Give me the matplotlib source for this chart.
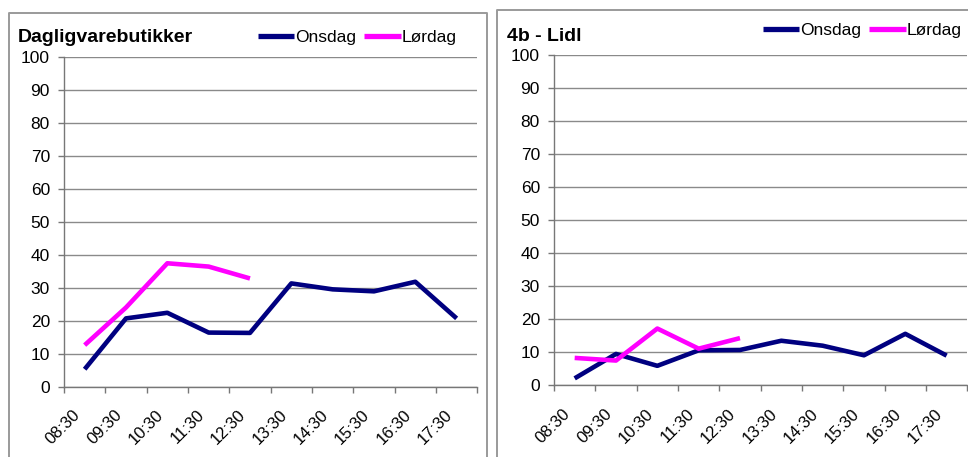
import matplotlib
matplotlib.use("Agg")
import matplotlib.pyplot as plt
from matplotlib.lines import Line2D
import matplotlib.transforms as mtransforms

plt.rcParams['font.family'] = ['Liberation Sans', 'DejaVu Sans']

times = ["08:30", "09:30", "10:30", "11:30", "12:30", "13:30", "14:30", "15:30", "16:30", "17:30"]
yticks = [0, 10, 20, 30, 40, 50, 60, 70, 80, 90, 100]

left_title = "Dagligvarebutikker"
left_onsdag = [5.3, 20.7, 22.4, 16.4, 16.3, 31.3, 29.5, 28.9, 31.8, 20.7]
left_lordag = [12.6, 24.0, 37.4, 36.4, 32.8]

right_title = "4b - Lidl"
right_onsdag = [2.1, 9.5, 5.9, 10.6, 10.7, 13.5, 12.0, 9.1, 15.6, 9.0]
right_lordag = [8.3, 7.5, 17.2, 11.1, 14.3]

W, H = 968, 457
fig = plt.figure(figsize=(W / 100, H / 100), dpi=100)


def fx(px):
    return px / W


def fy(py):
    return 1 - py / H


NAVY = '#000080'
MAGENTA = '#FF00FF'
GRID = '#8a8a8a'
FRAME = '#9a9a9a'

# panel frames
for (x0, y0, x1) in [(9, 13, 487), (497, 10, 975)]:
    fig.add_artist(Line2D([fx(x0), fx(x0), fx(x1), fx(x1)],
                          [fy(470), fy(y0), fy(y0), fy(470)],
                          transform=fig.transFigure, color=FRAME, lw=1.4,
                          clip_on=False))


def make_panel(ax_px, title, title_pos, onsdag, lordag, leg_pos):
    x0, ytop, x1, ybot = ax_px
    ax = fig.add_axes([fx(x0), fy(ybot), fx(x1) - fx(x0), fy(ytop) - fy(ybot)])
    n = len(times)
    xs = list(range(n))
    ax.plot(xs, onsdag, color=NAVY, lw=3.3, solid_capstyle='butt', label='Onsdag', zorder=3)
    ax.plot(xs[:len(lordag)], lordag, color=MAGENTA, lw=3.3, solid_capstyle='butt', label='Lørdag', zorder=3)
    ax.set_xlim(-0.5, n - 0.5)
    ax.set_ylim(0, 100)
    ax.set_yticks(yticks)
    ax.set_yticklabels([str(v) for v in yticks])
    ax.yaxis.grid(True, color=GRID, lw=1.0)
    ax.set_axisbelow(True)
    ax.set_xticks([i - 0.5 for i in range(n + 1)])
    ax.set_xticklabels([])
    ax.set_xticks(xs, minor=True)
    ax.set_xticklabels(times, minor=True, rotation=45, ha='right', va='top',
                       rotation_mode='anchor', fontsize=12)
    ax.tick_params(axis='x', which='minor', length=0, pad=15)
    ax.tick_params(axis='x', which='major', length=4.3, color='#777777', width=1)
    ax.tick_params(axis='y', length=4.3, color='#777777', width=1, labelsize=12.5, pad=5.8)
    for s in ['top', 'right']:
        ax.spines[s].set_visible(False)
    for s in ['left', 'bottom']:
        ax.spines[s].set_color('#777777')
        ax.spines[s].set_linewidth(1.0)
    ax.patch.set_alpha(0)
    for lbl in ax.get_xticklabels(minor=True):
        lbl.set_transform(lbl.get_transform() + mtransforms.ScaledTranslation(-12 / 100, 0, fig.dpi_scale_trans))
    fig.text(fx(title_pos[0]), fy(title_pos[1]), title, fontsize=14, fontweight='bold',
             ha='left', va='baseline')
    leg = ax.legend(loc='center left', bbox_to_anchor=(fx(leg_pos[0]), fy(leg_pos[1])),
                    bbox_transform=fig.transFigure, ncol=2, frameon=False, fontsize=12.5,
                    handlelength=2.1, handletextpad=0.05, columnspacing=0.45,
                    borderpad=0, borderaxespad=0)
    for h in leg.get_lines():
        h.set_linewidth(3.8)
    return ax


make_panel((64, 56.7, 477.3, 386.7), left_title, (18, 42), left_onsdag, left_lordag, (258, 37))
make_panel((554, 55.3, 967.3, 385.3), right_title, (507, 41), right_onsdag, right_lordag, (763, 30))

fig.savefig('out.png', dpi=100)
